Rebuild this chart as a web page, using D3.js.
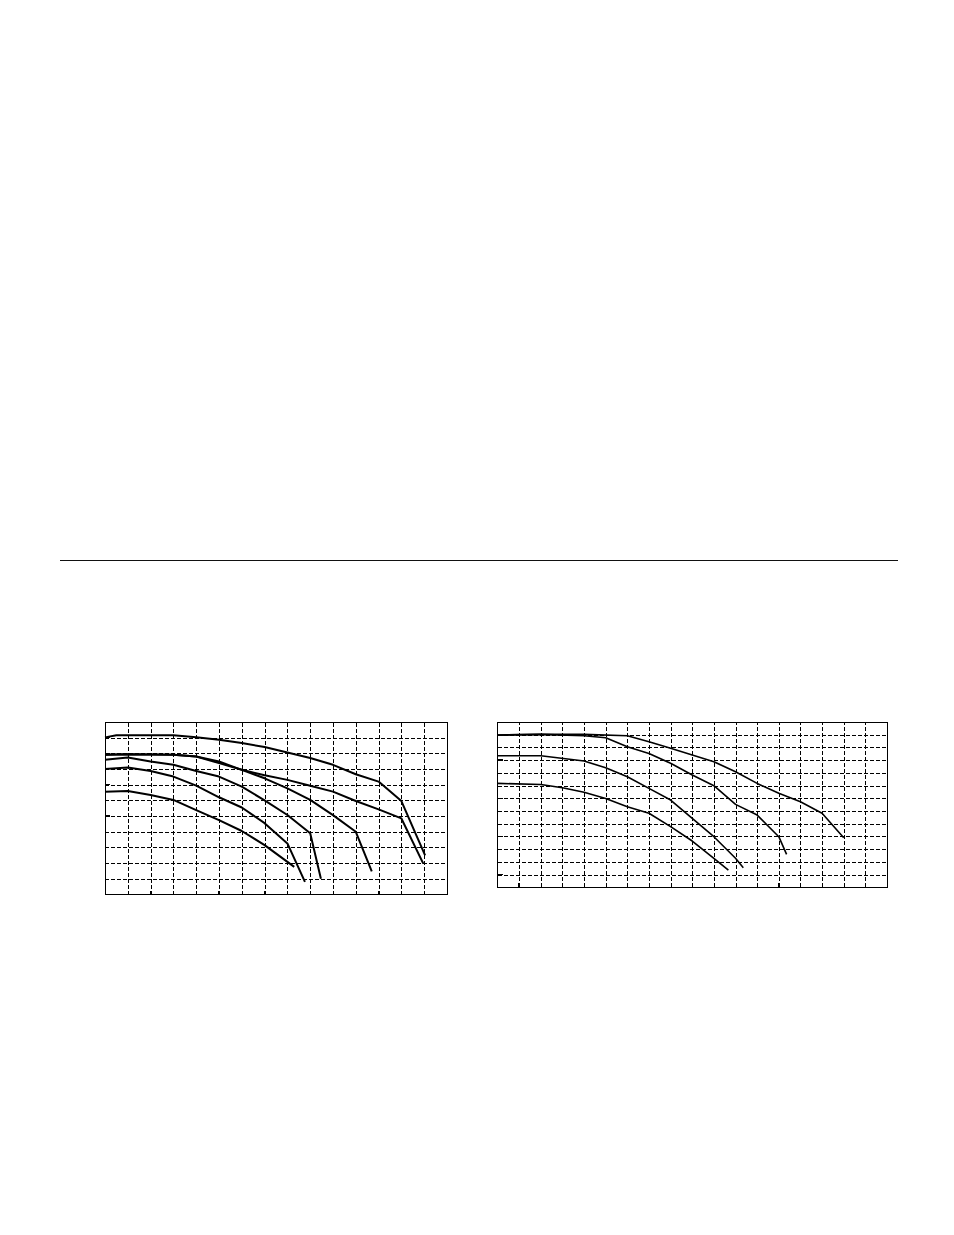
<!DOCTYPE html>
<html>
<head>
<meta charset="utf-8">
<script src="https://cdn.jsdelivr.net/npm/d3@7"></script>
<style>
  html, body { margin: 0; padding: 0; background: #fff; }
  svg { display: block; }
</style>
</head>
<body>
<svg id="page" width="954" height="1235"></svg>
<script>
// ---------- DATA (grid units: x = column index, y = row index from bottom) ----------
// Left chart: 15 columns x 11 rows
const leftColumns = 15;
const leftRows = 11;
const leftCurveA = [[0,10.02],[0.5,10.15],[3,10.15],[4,10.02],[5,9.87],[6,9.66],[7,9.4],[8,9.06],[9,8.7],[10,8.27],[11,7.67],[12,7.2],[13,5.96],[14.04,2.5]];
const leftCurveB = [[0,8.91],[1,8.95],[3,8.91],[4,8.8],[5,8.38],[6,7.95],[7,7.6],[8,7.31],[9,6.94],[10,6.56],[11,5.96],[12,5.43],[13,4.85],[13.96,1.97]];
const leftCurveC = [[0,8.91],[1,8.95],[3,8.91],[4,8.8],[5,8.48],[6,7.95],[7,7.41],[8,6.77],[9,6.03],[10,5.06],[11,4.0],[11.7,1.47]];
const leftCurveD1 = [[0,8.59],[1,8.74],[2,8.48],[3,8.27],[4,7.88],[5,7.52],[6,6.88],[7,6.0],[8,5.07],[9,3.9],[9.47,1.0]];
const leftCurveD2 = [[0,8.01],[1,8.1],[2,7.88],[3,7.52],[4,6.94],[5,6.2],[6,5.55],[7,4.55],[8,3.26],[8.77,0.8]];
const leftCurveE = [[0,6.56],[1,6.6],[2,6.35],[3,6.03],[4,5.38],[5,4.74],[6,4.05],[7,3.15],[8.3,1.76]];
const leftBottomTicks = [2,5,7,12];
const leftSideTicks = [5,7,9,10];

// Right chart: 18 columns x 13 rows
const rightColumns = 18;
const rightRows = 13;
const rightCurve1 = [[0,11.97],[2,12.03],[4,12.03],[6,11.92],[7,11.45],[8,10.93],[9,10.4],[10,9.88],[11,9.09],[12,8.17],[13,7.39],[14,6.73],[15,5.82],[16,3.9]];
const rightCurve2 = [[0,11.97],[2,12.03],[4,11.92],[5,11.76],[6,11.06],[7,10.53],[8,9.75],[9,8.83],[10,7.99],[11,6.52],[12,5.68],[13,3.98],[13.36,2.59]];
const rightCurve3 = [[0,10.35],[2,10.35],[4,9.93],[5,9.4],[6,8.7],[7,7.78],[8,6.86],[9,5.42],[10,3.98],[11,2.28],[11.36,1.54]];
const rightCurve4 = [[0,8.17],[2,8.09],[3,7.83],[4,7.47],[5,6.99],[6,6.34],[7,5.82],[8,4.77],[9,3.64],[10,2.28],[10.67,1.36]];
const rightBottomTicks = [1,6,9,13,14,17];
const rightSideTicks = [1,4,7,10];

// ---------- DRAWING ----------
const svg = d3.select("#page");

// separator rule
svg.append("line")
  .attr("x1", 60).attr("x2", 898)
  .attr("y1", 560.5).attr("y2", 560.5)
  .attr("stroke", "#111").attr("stroke-width", 1.2);

function drawChart(cfg) {
  const g = svg.append("g").attr("transform", `translate(${cfg.left},${cfg.top})`);
  const w = cfg.width, h = cfg.height;
  const x = d3.scaleLinear().domain([0, cfg.cols]).range([0, w]);
  const y = d3.scaleLinear().domain([0, cfg.rows]).range([h, 0]);

  // vertical dashed grid
  const gx = g.append("g")
    .attr("transform", `translate(0,${h})`)
    .call(d3.axisBottom(x).tickValues(d3.range(1, cfg.cols)).tickSize(-h).tickFormat(""));
  gx.select(".domain").remove();
  gx.selectAll("line").attr("stroke", "#000").attr("stroke-width", 1)
    .attr("stroke-dasharray", "4,2").attr("shape-rendering", "crispEdges");

  // horizontal dashed grid
  const gy = g.append("g")
    .call(d3.axisLeft(y).tickValues(d3.range(1, cfg.rows)).tickSize(-w).tickFormat(""));
  gy.select(".domain").remove();
  gy.selectAll("line").attr("stroke", "#000").attr("stroke-width", 1)
    .attr("stroke-dasharray", "4,2").attr("shape-rendering", "crispEdges");

  // short solid ticks
  g.selectAll(".btick").data(cfg.bottomTicks).enter().append("line")
    .attr("x1", d => x(d)).attr("x2", d => x(d))
    .attr("y1", h - 4).attr("y2", h)
    .attr("stroke", "#000").attr("stroke-width", 1.5).attr("shape-rendering", "crispEdges");
  g.selectAll(".stick").data(cfg.sideTicks).enter().append("line")
    .attr("x1", 0).attr("x2", 5)
    .attr("y1", d => y(d)).attr("y2", d => y(d))
    .attr("stroke", "#000").attr("stroke-width", 1.5).attr("shape-rendering", "crispEdges");

  // frame
  g.append("rect").attr("x", 0).attr("y", 0).attr("width", w).attr("height", h)
    .attr("fill", "none").attr("stroke", "#000").attr("stroke-width", 1)
    .attr("shape-rendering", "crispEdges");

  // curves
  const line = d3.line().x(d => x(d[0])).y(d => y(d[1]));
  g.selectAll(".curve").data(cfg.curves).enter().append("path")
    .attr("d", line)
    .attr("fill", "none")
    .attr("stroke", "#000")
    .attr("stroke-width", cfg.strokeWidth)
    .attr("stroke-linejoin", "round");
}

drawChart({
  left: 105, top: 722, width: 342, height: 172.5,
  cols: leftColumns, rows: leftRows,
  curves: [leftCurveA, leftCurveB, leftCurveC, leftCurveD1, leftCurveD2, leftCurveE],
  bottomTicks: leftBottomTicks, sideTicks: leftSideTicks,
  strokeWidth: 2
});

drawChart({
  left: 497.5, top: 722, width: 389.5, height: 165.3,
  cols: rightColumns, rows: rightRows,
  curves: [rightCurve1, rightCurve2, rightCurve3, rightCurve4],
  bottomTicks: rightBottomTicks, sideTicks: rightSideTicks,
  strokeWidth: 1.6
});
</script>
</body>
</html>
